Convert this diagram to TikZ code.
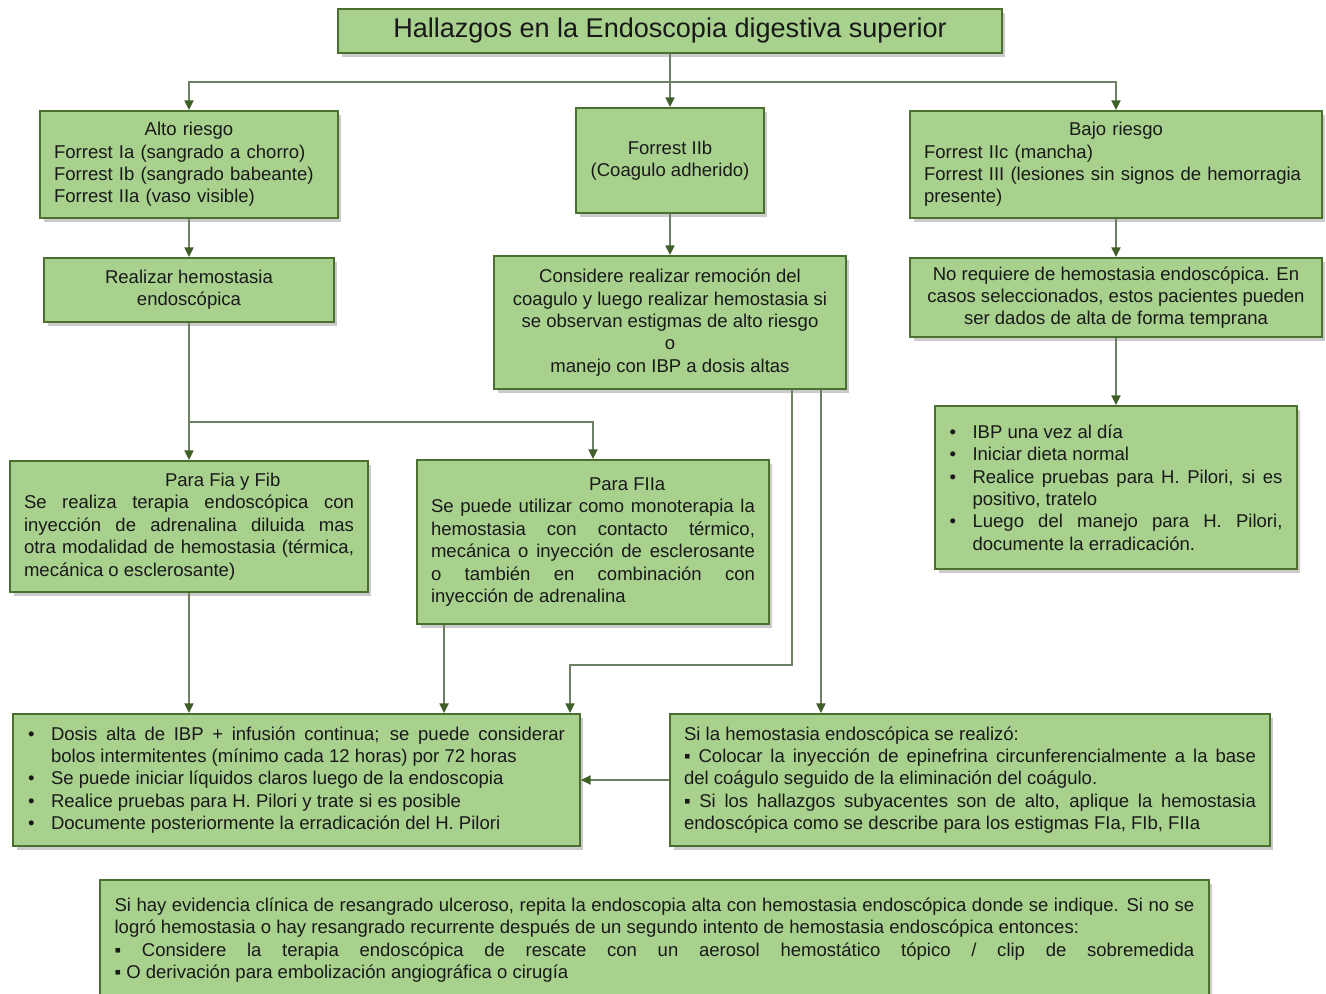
\documentclass[tikz,border=0pt]{standalone}
\usepackage{fontspec}
\setmainfont{Liberation Sans}
\usepackage{xcolor}
\usepackage{tikz}
\usetikzlibrary{arrows.meta, positioning, calc, shadows}
\definecolor{boxfill}{HTML}{A9D18E}
\definecolor{boxedge}{HTML}{4A6F2E}
\definecolor{wire}{HTML}{6E8063}
\definecolor{tipgreen}{HTML}{3F5F29}
\setlength{\parindent}{0pt}
\setlength{\parskip}{0pt}
\tolerance=9999
\newlength{\bulind}
\setlength{\bulind}{0.46cm}
\newcommand{\itm}[1]{\noindent\hangindent=\bulind\hangafter=1\hbox to\bulind{\textbullet\hfil}#1\par}
\tikzset{
  card/.style={rectangle, draw=boxedge, fill=boxfill, line width=1.1pt, inner sep=0pt, text=black!90, font=\fontsize{10.55}{12.75}\selectfont, drop shadow={shadow xshift=0.07cm, shadow yshift=-0.08cm, fill=black!45, opacity=0.45}},
  flow/.style={draw=wire, line width=0.8pt, -{Triangle[length=5.5pt, width=5.2pt, color=tipgreen]}},
}

\begin{document}
\begin{tikzpicture}[x=0.02cm, y=-0.02cm]
  \useasboundingbox (0,0) rectangle (1326,994);

  \node[card, minimum width=13.28cm, minimum height=0.88cm, font=\fontsize{15.4}{18}\selectfont] (title) at (670,31) {Hallazgos en la Endoscopia digestiva superior};

  \node[card, minimum width=5.96cm, minimum height=2.14cm, text width=5.4cm, align=left] (alto) at (189,164.5)
    {{\centering Alto riesgo\par}Forrest Ia (sangrado a chorro)\par Forrest Ib (sangrado babeante)\par Forrest IIa (vaso visible)};
  \node[card, minimum width=3.76cm, minimum height=2.1cm, align=center] (iib) at (670,160.5) {Forrest IIb\\(Coagulo adherido)};
  \node[card, minimum width=8.24cm, minimum height=2.14cm, text width=7.68cm, align=left] (bajo) at (1116,164.5)
    {{\centering Bajo riesgo\par}Forrest IIc (mancha)\par Forrest III (lesiones sin signos de hemorragia\par presente)};

  \node[card, minimum width=5.8cm, minimum height=1.28cm, align=center] (realizar) at (189,290) {Realizar hemostasia\\endosc\'opica};
  \node[card, minimum width=7.04cm, minimum height=2.66cm, align=center] (considere) at (670,322.5)
    {Considere realizar remoción del\\coagulo y luego realizar hemostasia si\\se observan estigmas de alto riesgo\\o\\manejo con IBP a dosis altas};
  \node[card, minimum width=8.24cm, minimum height=1.58cm, align=center] (norequiere) at (1116,297.5)
    {No requiere de hemostasia endoscópica. En\\casos seleccionados, estos pacientes pueden\\ser dados de alta de forma temprana};

  \node[card, minimum width=7.24cm, minimum height=3.26cm, text width=6.66cm, align=justify] (ibp) at (1116,487.5)
    {\itm{IBP una vez al día}\itm{Iniciar dieta normal}\itm{Realice pruebas para H. Pilori, si es\linebreak positivo, tratelo}\itm{Luego del manejo para H. Pilori,\linebreak documente la erradicación.}};

  \node[card, minimum width=7.16cm, minimum height=2.62cm, text width=6.6cm, align=justify] (fiafib) at (189,526.5)
    {\hspace*{2.82cm}Para Fia y Fib\par Se realiza terapia endoscópica con\linebreak inyección de adrenalina diluida mas\linebreak otra modalidad de hemostasia (térmica,\linebreak mecánica o esclerosante)};
  \node[card, minimum width=7.04cm, minimum height=3.28cm, text width=6.48cm, align=justify] (fiia) at (593,542)
    {\hspace*{3.16cm}Para FIIa\par Se puede utilizar como monoterapia la\linebreak hemostasia con contacto térmico,\linebreak mecánica o inyección de esclerosante\linebreak o también en combinación con\linebreak inyección de adrenalina};

  \node[card, minimum width=11.34cm, minimum height=2.64cm, text width=10.74cm, align=justify] (dosis) at (296.5,780)
    {\itm{Dosis alta de IBP + infusión continua; se puede considerar\linebreak bolos intermitentes (mínimo cada 12 horas) por 72 horas}\itm{Se puede iniciar líquidos claros luego de la endoscopia}\itm{Realice pruebas para H. Pilori y trate si es posible}\itm{Documente posteriormente la erradicación del H. Pilori}};
  \node[card, minimum width=12cm, minimum height=2.64cm, text width=11.44cm, align=justify] (sila) at (970,780)
    {Si la hemostasia endoscópica se realizó:\par ▪ Colocar la inyección de epinefrina circunferencialmente a la base\linebreak del coágulo seguido de la eliminación del coágulo.\par ▪ Si los hallazgos subyacentes son de alto, aplique la hemostasia\linebreak endoscópica como se describe para los estigmas FIa, FIb, FIIa};

  \node[card, minimum width=22.18cm, minimum height=2.4cm, text width=21.6cm, align=justify] (resang) at (654.5,940)
    {Si hay evidencia clínica de resangrado ulceroso, repita la endoscopia alta con hemostasia endoscópica donde se indique. Si no se\linebreak logró hemostasia o hay resangrado recurrente después de un segundo intento de hemostasia endoscópica entonces:\par ▪ Considere la terapia endoscópica de rescate con un aerosol hemostático tópico / clip de sobremedida\linebreak ▪ O derivación para embolización angiográfica o cirugía};

  \coordinate (bus) at (670,82);
  \coordinate (split) at (189,422);
  \coordinate (elbow) at (570,665);

  \draw[flow] (title.south) -- (iib.north);
  \draw[flow] (bus) -| (alto.north);
  \draw[flow] (bus) -| (bajo.north);
  \draw[flow] (alto) -- (realizar);
  \draw[flow] (iib) -- (considere);
  \draw[flow] (bajo) -- (norequiere);
  \draw[flow] (norequiere) -- (ibp);
  \draw[flow] (realizar) -- (fiafib);
  \draw[flow] (split) -| (fiia.north);
  \draw[flow] (fiafib) -- (fiafib |- dosis.north);
  \draw[flow] ([xshift=0.56cm]fiia.south west) -- ([xshift=0.56cm]fiia.south west |- dosis.north);
  \draw[flow] ([xshift=-1.1cm]considere.south east) |- (elbow) -- (elbow |- dosis.north);
  \draw[flow] ([xshift=-0.52cm]considere.south east) -- ([xshift=-0.52cm]considere.south east |- sila.north);
  \draw[flow] (sila) -- (dosis);
\end{tikzpicture}
\end{document}
